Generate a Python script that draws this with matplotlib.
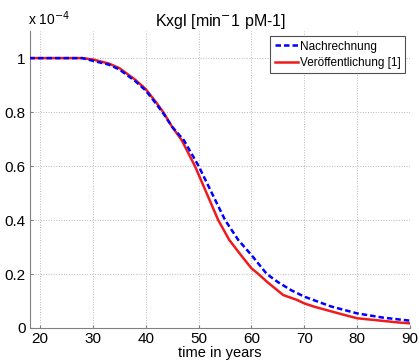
import numpy as np
import matplotlib.pyplot as plt

plt.rcParams['font.family'] = ['Liberation Sans', 'DejaVu Sans']

# recomputed curve (values in units of 1e-4)
years_calc = [18, 28, 30, 33, 35, 38, 40, 42, 43.5, 45, 47.2, 50, 52.5, 55, 57.5,
              60, 62.9, 65, 67.5, 70, 75, 80, 85, 90]
kxgl_calc = [1.0, 1.0, 0.99, 0.976, 0.958, 0.915, 0.88, 0.83, 0.79, 0.745, 0.696,
             0.6, 0.5, 0.4, 0.326, 0.27, 0.2, 0.17, 0.14, 0.116, 0.08, 0.054, 0.038, 0.027]

# published curve [1]
years_pub = [18, 28, 30, 33, 35, 38, 40, 42, 43.3, 45, 46.8, 49.3, 51.5, 53.7, 55.8,
             58, 60, 61.3, 63, 66, 68.6, 70, 72, 75, 78, 80, 83, 85, 88, 90]
kxgl_pub = [1.0, 1.0, 0.995, 0.98, 0.963, 0.92, 0.885, 0.835, 0.8, 0.745, 0.696,
            0.6, 0.5, 0.4, 0.326, 0.27, 0.221, 0.2, 0.17, 0.122, 0.104, 0.091, 0.078,
            0.062, 0.046, 0.036, 0.03, 0.026, 0.02, 0.017]

x_ticks = [20, 30, 40, 50, 60, 70, 80, 90]
y_ticks = [0, 0.2, 0.4, 0.6, 0.8, 1.0]
y_labels = ['0', '0.2', '0.4', '0.6', '0.8', '1']

fig = plt.figure(figsize=(4.2, 3.62), dpi=100)
ax = fig.add_axes([0.0714, 0.094, 0.905, 0.82])

ax.plot(years_calc, kxgl_calc, color='#0000ff', linestyle='--', linewidth=1.8,
        dashes=(2.2, 1.2), label='Nachrechnung', zorder=3)
ax.plot(years_pub, kxgl_pub, color='#ee1c1c', linestyle='-', linewidth=1.8,
        label='Veröffentlichung [1]', zorder=2)

ax.set_xlim(18.1, 90)
ax.set_ylim(0, 1.1)
ax.set_xticks(x_ticks)
ax.set_yticks(y_ticks)
ax.set_yticklabels(y_labels)
ax.tick_params(direction='in', length=2, labelsize=11, colors='#808080', labelcolor='black', pad=3)
ax.grid(True, linestyle=':', color='#b8b8b8', linewidth=0.7)

for side in ['top', 'right']:
    ax.spines[side].set_visible(False)
for side in ['left', 'bottom']:
    ax.spines[side].set_color('#808080')

ax.set_title('Kxgl [min$^{-}$1 pM-1]', fontsize=11.5, pad=4)
ax.set_xlabel('time in years', fontsize=10.5, labelpad=0)
ax.text(-0.005, 1.012, 'x 10$^{-4}$', transform=ax.transAxes, fontsize=10,
        ha='left', va='bottom')

leg = ax.legend(loc='upper right', fontsize=8.5, fancybox=False, framealpha=1,
                edgecolor='#505050', handlelength=2.0, handletextpad=0.15,
                borderpad=0.35, labelspacing=0.4, borderaxespad=0.45)
leg.get_frame().set_linewidth(0.8)

fig.savefig('out.png', dpi=100)
